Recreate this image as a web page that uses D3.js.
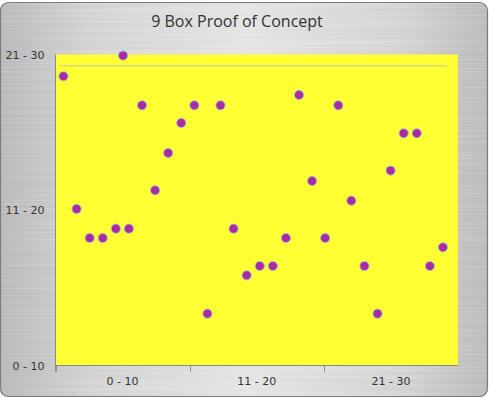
<!DOCTYPE html>
<html><head><meta charset="utf-8">
<script src="https://cdn.jsdelivr.net/npm/d3@7"></script>
<style>html,body{margin:0;padding:0;background:#fff;}svg{display:block;}</style>
</head><body>
<script>
const title = "9 Box Proof of Concept";
const xCategories = ["0 - 10", "11 - 20", "21 - 30"];
const yCategories = ["0 - 10", "11 - 20", "21 - 30"];
const yTickValues = [0, 15, 30];
const pointX = [1, 2, 3, 4, 5, 5.55, 6, 7, 8, 9, 10, 11, 12, 13, 14, 15, 16, 17, 18, 19, 20, 21, 22, 23, 24, 25, 26, 27, 28, 29, 30];
const pointY = [27.9, 15.1, 12.3, 12.3, 13.2, 29.9, 13.2, 25.1, 16.9, 20.5, 23.4, 25.1, 5.0, 25.1, 13.2, 8.7, 9.6, 9.6, 12.3, 26.1, 17.8, 12.3, 25.1, 15.9, 9.6, 5.0, 18.8, 22.4, 22.4, 9.6, 11.4];
const refLineX = [0.69, 30.3];
const refLineY = [28.9, 28.9];

const W = 494, H = 398;
const svg = d3.select("body").append("svg").attr("width", W).attr("height", H);
const defs = svg.append("defs");

const g1 = defs.append("linearGradient").attr("id","metal").attr("x1","0").attr("x2","1").attr("y1","0").attr("y2","0");
[[0,"#b8b8b8"],[0.18,"#d2d2d2"],[0.5,"#e4e4e4"],[0.82,"#d2d2d2"],[1,"#b8b8b8"]].forEach(s=>g1.append("stop").attr("offset",s[0]).attr("stop-color",s[1]));

const f = defs.append("filter").attr("id","brush").attr("x","0").attr("y","0").attr("width","1").attr("height","1");
f.append("feTurbulence").attr("type","fractalNoise").attr("baseFrequency","0.004 0.6").attr("numOctaves","2").attr("seed","3").attr("result","n");
f.append("feColorMatrix").attr("in","n").attr("type","matrix")
 .attr("values","0 0 0 0 1  0 0 0 0 1  0 0 0 0 1  0.9 0 0 0 -0.35").attr("result","w");
f.append("feComposite").attr("in","w").attr("in2","SourceGraphic").attr("operator","in");

const clip = defs.append("clipPath").attr("id","panelClip");
clip.append("rect").attr("x",0.5).attr("y",2.5).attr("width",487).attr("height",394).attr("rx",8);

const panel = svg.append("g").attr("clip-path","url(#panelClip)");
panel.append("rect").attr("x",0).attr("y",0).attr("width",W).attr("height",H).attr("fill","url(#metal)");
panel.append("rect").attr("x",0).attr("y",0).attr("width",W).attr("height",H).attr("fill","#888").attr("filter","url(#brush)").attr("opacity",0.55);
svg.append("rect").attr("x",0.5).attr("y",2.5).attr("width",487).attr("height",394).attr("rx",8)
  .attr("fill","none").attr("stroke","#7a7a7a").attr("stroke-width",1.2);

const L = 55.5, R = 458, T = 54.5, B = 365.5;
const x = d3.scaleLinear().domain([0.39, 31.15]).range([L, R]);
const y = d3.scaleLinear().domain([0, 30]).range([B, T]);
const xb = d3.scaleBand().domain(xCategories).range([L, R]);

svg.append("rect").attr("x",L).attr("y",T).attr("width",R-L).attr("height",B-T).attr("fill","#ffff33");

svg.append("text").attr("x",237).attr("y",27).attr("text-anchor","middle")
  .attr("font-family","'Open Sans', sans-serif").attr("font-size",16).attr("fill","#333").text(title);

// reference line
svg.append("line").attr("x1",x(refLineX[0])).attr("x2",x(refLineX[1])).attr("y1",y(refLineY[0])).attr("y2",y(refLineY[1]))
  .attr("stroke","#c2c2a8").attr("stroke-width",1);

// axes lines
svg.append("line").attr("x1",L).attr("x2",L).attr("y1",T).attr("y2",B+6).attr("stroke","#8a8a8a").attr("stroke-width",1);
svg.append("line").attr("x1",L).attr("x2",R).attr("y1",B).attr("y2",B).attr("stroke","#8a8a8a").attr("stroke-width",1);
xCategories.forEach(c=>{
  svg.append("line").attr("x1",Math.round(xb(c))+0.5).attr("x2",Math.round(xb(c))+0.5).attr("y1",B).attr("y2",B+6).attr("stroke","#8a8a8a");
});

const fontAx = "'DejaVu Sans', Verdana, sans-serif";
const xAxis = d3.axisBottom(xb).tickSize(0).tickPadding(12);
const gx = svg.append("g").attr("transform",`translate(0,${B})`).call(xAxis);
gx.select(".domain").remove();
gx.selectAll("text").attr("font-family",fontAx).attr("font-size",11).attr("fill","#333");

const yAxis = d3.axisLeft(y).tickValues(yTickValues).tickFormat((d,i)=>yCategories[i]).tickSize(0).tickPadding(11);
const gy = svg.append("g").attr("transform",`translate(${L},0)`).call(yAxis);
gy.select(".domain").remove();
gy.selectAll("text").attr("font-family",fontAx).attr("font-size",11).attr("fill","#333");

// points
const pts = pointX.map((v,i)=>({x:v,y:pointY[i]}));
svg.append("g").selectAll("circle").data(pts).join("circle")
  .attr("cx",d=>x(d.x)).attr("cy",d=>y(d.y)).attr("r",4.6)
  .attr("fill","#ab2a9f").attr("stroke","#8fc4e6").attr("stroke-width",1).attr("stroke-opacity",0.85);
</script>
</body></html>
